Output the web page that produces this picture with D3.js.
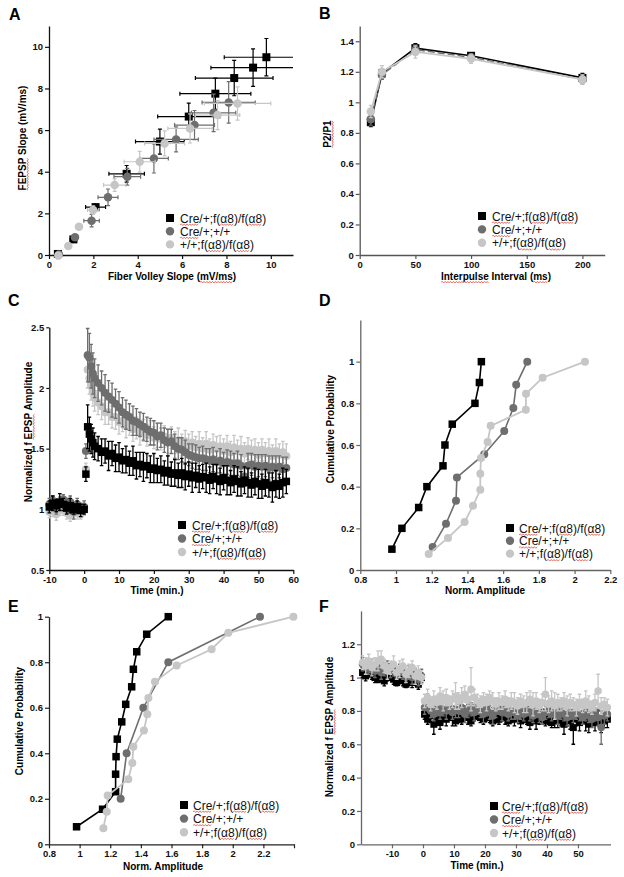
<!DOCTYPE html>
<html>
<head>
<meta charset="utf-8">
<script src="https://cdn.jsdelivr.net/npm/d3@7"></script>
<style>
  body { margin: 0; background: #fff; }
  svg { display: block; }
  text { font-family: "Liberation Sans", Arial, sans-serif; }
</style>
</head>
<body>
<svg id="fig" width="624" height="877"></svg>
<script>
// ---- shared legend / series info
var legendLabels = ["Cre/+;f(α8)/f(α8)", "Cre/+;+/+", "+/+;f(α8)/f(α8)"];

// ---- A: input/output
var aBlackX = [0.4, 1.1, 2.1, 3.5, 5.0, 6.3, 7.5, 8.35, 9.2, 9.8];
var aBlackY = [0.05, 0.75, 2.3, 3.9, 5.45, 6.65, 7.75, 8.5, 9.0, 9.5];
var aBlackXErr = [0.05, 0.15, 0.45, 0.8, 1.1, 1.4, 1.6, 1.75, 1.9, 1.9];
var aBlackYErr = [0.05, 0.1, 0.15, 0.4, 0.6, 0.65, 0.75, 0.85, 0.9, 0.9];
var aGrayX = [0.45, 1.17, 1.92, 2.66, 3.53, 4.73, 5.73, 6.56, 7.42, 8.1];
var aGrayY = [0.02, 0.85, 1.65, 2.77, 3.76, 4.64, 5.55, 6.24, 6.83, 7.33];
var aGrayXErr = [0.05, 0.15, 0.35, 0.45, 0.6, 0.65, 1.0, 0.9, 1.0, 1.2];
var aGrayYErr = [0.05, 0.1, 0.3, 0.4, 0.4, 0.7, 0.6, 0.7, 0.9, 1.0];
var aLightX = [0.42, 0.87, 1.35, 1.99, 2.96, 4.09, 5.21, 6.36, 7.6, 8.5];
var aLightY = [-0.03, 0.43, 1.36, 2.16, 3.36, 4.48, 5.36, 6.08, 6.72, 7.28];
var aLightXErr = [0.05, 0.1, 0.15, 0.25, 0.5, 0.7, 0.9, 1.0, 1.0, 1.5];
var aLightYErr = [0.05, 0.1, 0.1, 0.2, 0.3, 0.5, 0.6, 0.7, 0.7, 0.8];
var aTicks = [0, 2, 4, 6, 8, 10];

// ---- B: paired pulse
var bInterval = [10, 20, 50, 100, 200];
var bBlack = [0.87, 1.19, 1.355, 1.305, 1.16];
var bBlackErr = [0.03, 0.03, 0.03, 0.02, 0.03];
var bGray = [0.89, 1.18, 1.345, 1.295, 1.15];
var bGrayErr = [0.04, 0.03, 0.03, 0.02, 0.03];
var bLight = [0.94, 1.20, 1.33, 1.285, 1.15];
var bLightErr = [0.04, 0.04, 0.04, 0.03, 0.03];
var bXTicks = [0, 50, 100, 150, 200];
var bYTicks = [0, 0.2, 0.4, 0.6, 0.8, 1, 1.2, 1.4];

// ---- C: LTP time course
var cTime = [-10, -9, -8, -7, -6, -5, -4, -3, -2, -1, 0,
  0.5, 1, 1.5, 2, 2.5, 3,
  4, 5, 6, 7, 8, 9, 10, 11, 12, 13,
  14, 15, 16, 17, 18, 19, 20, 21, 22, 23,
  24, 25, 26, 27, 28, 29, 30, 31, 32, 33,
  34, 35, 36, 37, 38, 39, 40, 41, 42, 43,
  44, 45, 46, 47, 48, 49, 50, 51, 52, 53,
  54, 55, 56, 57, 58];
var cBlack = [1.02, 1.05, 1.03, 1.06, 1.04, 1.01, 1.03, 1.00, 1.02, 0.99, 1.00,
  1.29, 1.68, 1.62, 1.58, 1.55, 1.52,
  1.50, 1.47, 1.48, 1.44, 1.46, 1.42, 1.43, 1.40, 1.41, 1.38,
  1.40, 1.36, 1.37, 1.35, 1.36, 1.33, 1.34, 1.32, 1.33, 1.30,
  1.32, 1.29, 1.30, 1.28, 1.30, 1.27, 1.29, 1.26, 1.28, 1.25,
  1.27, 1.26, 1.24, 1.27, 1.25, 1.23, 1.26, 1.24, 1.22, 1.25,
  1.23, 1.21, 1.24, 1.22, 1.20, 1.23, 1.21, 1.19, 1.22, 1.20,
  1.18, 1.21, 1.19, 1.22, 1.23];
var cBlackErr = [0.05, 0.06, 0.05, 0.07, 0.05, 0.05, 0.06, 0.04, 0.05, 0.05, 0.04,
  0.06, 0.18, 0.14, 0.12, 0.12, 0.11,
  0.10, 0.11, 0.10, 0.12, 0.10, 0.11, 0.12, 0.10, 0.11, 0.10,
  0.12, 0.11, 0.10, 0.12, 0.10, 0.11, 0.12, 0.10, 0.11, 0.10,
  0.12, 0.10, 0.11, 0.10, 0.12, 0.11, 0.10, 0.12, 0.10, 0.11,
  0.10, 0.12, 0.11, 0.10, 0.12, 0.11, 0.10, 0.12, 0.10, 0.11,
  0.12, 0.10, 0.11, 0.12, 0.10, 0.11, 0.12, 0.10, 0.11, 0.10,
  0.12, 0.11, 0.10, 0.12, 0.10];
var cGray = [1.04, 1.07, 1.02, 1.05, 1.08, 1.03, 1.06, 0.98, 1.04, 1.01, 1.02,
  1.48, 2.27, 2.25, 2.18, 2.12, 2.08,
  2.04, 2.00, 1.96, 1.93, 1.90, 1.87, 1.84, 1.80, 1.78, 1.76,
  1.73, 1.72, 1.70, 1.68, 1.66, 1.64, 1.63, 1.60, 1.61, 1.57,
  1.55, 1.56, 1.52, 1.50, 1.49, 1.47, 1.45, 1.44, 1.43, 1.42,
  1.42, 1.41, 1.40, 1.41, 1.39, 1.40, 1.38, 1.39, 1.38, 1.37,
  1.38, 1.36, 1.27, 1.36, 1.37, 1.35, 1.36, 1.35, 1.36, 1.34,
  1.35, 1.34, 1.35, 1.33, 1.34];
var cGrayErr = [0.05, 0.04, 0.06, 0.05, 0.04, 0.06, 0.05, 0.06, 0.05, 0.04, 0.05,
  0.06, 0.22, 0.20, 0.18, 0.17, 0.16,
  0.15, 0.14, 0.15, 0.13, 0.14, 0.12, 0.13, 0.12, 0.12, 0.11,
  0.12, 0.11, 0.10, 0.11, 0.10, 0.11, 0.10, 0.11, 0.10, 0.10,
  0.11, 0.10, 0.10, 0.09, 0.10, 0.10, 0.09, 0.10, 0.10, 0.09,
  0.10, 0.09, 0.10, 0.10, 0.09, 0.10, 0.09, 0.10, 0.10, 0.09,
  0.10, 0.09, 0.08, 0.10, 0.09, 0.10, 0.09, 0.10, 0.09, 0.10,
  0.09, 0.10, 0.09, 0.10, 0.09];
var cLight = [0.98, 1.00, 0.96, 0.99, 1.01, 0.97, 0.95, 0.99, 0.97, 0.96, 1.00,
  1.33, 2.15, 2.08, 2.02, 1.96, 1.92,
  1.88, 1.85, 1.80, 1.80, 1.76, 1.76, 1.72, 1.73, 1.69, 1.70,
  1.66, 1.67, 1.63, 1.65, 1.61, 1.63, 1.59, 1.61, 1.58, 1.60,
  1.56, 1.59, 1.55, 1.57, 1.53, 1.56, 1.52, 1.55, 1.51, 1.54,
  1.50, 1.54, 1.49, 1.53, 1.50, 1.52, 1.48, 1.52, 1.47, 1.51,
  1.48, 1.50, 1.46, 1.50, 1.47, 1.49, 1.45, 1.49, 1.46, 1.48,
  1.44, 1.48, 1.45, 1.47, 1.44];
var cLightErr = [0.05, 0.06, 0.05, 0.04, 0.06, 0.05, 0.05, 0.06, 0.05, 0.04, 0.05,
  0.05, 0.15, 0.13, 0.12, 0.11, 0.11,
  0.10, 0.11, 0.10, 0.10, 0.09, 0.10, 0.10, 0.09, 0.10, 0.09,
  0.10, 0.09, 0.10, 0.09, 0.09, 0.10, 0.09, 0.10, 0.09, 0.09,
  0.10, 0.09, 0.09, 0.10, 0.09, 0.09, 0.10, 0.09, 0.09, 0.10,
  0.09, 0.10, 0.09, 0.09, 0.10, 0.09, 0.10, 0.09, 0.09, 0.10,
  0.09, 0.10, 0.09, 0.09, 0.10, 0.09, 0.10, 0.09, 0.09, 0.10,
  0.09, 0.10, 0.09, 0.09, 0.10];
var cXTicks = [-10, 0, 10, 20, 30, 40, 50, 60];
var cYTicks = [0.5, 1, 1.5, 2, 2.5];

// ---- D: cumulative, LTP amplitude
var dBlackX = [0.977, 1.033, 1.127, 1.173, 1.263, 1.274, 1.315, 1.442, 1.467, 1.478];
var dBlackY = [0.1, 0.2, 0.3, 0.4, 0.5, 0.6, 0.7, 0.8, 0.9, 1.0];
var dGrayX = [1.205, 1.28, 1.336, 1.341, 1.494, 1.606, 1.657, 1.673, 1.735];
var dGrayY = [0.111, 0.222, 0.333, 0.444, 0.556, 0.667, 0.778, 0.889, 1.0];
var dLightX = [1.183, 1.291, 1.384, 1.431, 1.472, 1.472, 1.476, 1.513, 1.53, 1.727, 1.728, 1.821, 2.058];
var dLightY = [0.077, 0.154, 0.231, 0.308, 0.385, 0.462, 0.538, 0.615, 0.692, 0.769, 0.846, 0.923, 1.0];
var dXTicks = [0.8, 1, 1.2, 1.4, 1.6, 1.8, 2, 2.2];
var dYTicks = [0, 0.2, 0.4, 0.6, 0.8, 1];

// ---- E: cumulative, LTD amplitude
var eBlackX = [0.98, 1.15, 1.235, 1.235, 1.238, 1.246, 1.275, 1.301, 1.34, 1.351, 1.373, 1.438, 1.579];
var eBlackY = [0.077, 0.154, 0.231, 0.308, 0.385, 0.462, 0.538, 0.615, 0.692, 0.769, 0.846, 0.923, 1.0];
var eGrayX = [1.268, 1.307, 1.416, 1.579, 2.178];
var eGrayY = [0.2, 0.4, 0.6, 0.8, 1.0];
var eLightX = [1.155, 1.177, 1.183, 1.318, 1.344, 1.351, 1.42, 1.442, 1.449, 1.492, 1.634, 1.862, 1.971, 2.396];
var eLightY = [0.071, 0.143, 0.214, 0.286, 0.357, 0.429, 0.5, 0.571, 0.643, 0.714, 0.786, 0.857, 0.929, 1.0];
var eXTicks = [0.8, 1, 1.2, 1.4, 1.6, 1.8, 2, 2.2, 2.4];
var eYTicks = [0, 0.2, 0.4, 0.6, 0.8, 1];

// ---- F: LTD time course
var fTime = [-19.5, -18.5, -17.5, -16.5, -15.5, -14.5, -13.5, -12.5, -11.5, -10.5,
  -9.5, -8.5, -7.5, -6.5, -5.5, -4.5, -3.5, -2.5, -1.5, -0.5,
  0.5, 1.5, 2.5, 3.5, 4.5, 5.5, 6.5, 7.5, 8.5, 9.5,
  10.5, 11.5, 12.5, 13.5, 14.5, 15.5, 16.5, 17.5, 18.5, 19.5,
  20.5, 21.5, 22.5, 23.5, 24.5, 25.5, 26.5, 27.5, 28.5, 29.5,
  30.5, 31.5, 32.5, 33.5, 34.5, 35.5, 36.5, 37.5, 38.5, 39.5,
  40.5, 41.5, 42.5, 43.5, 44.5, 45.5, 46.5, 47.5, 48.5, 49.5,
  50.5, 51.5, 52.5, 53.5, 54.5, 55.5, 56.5, 57.5, 58.5, 59.5];
var fBlack = [1.03, 1.01, 1.04, 1.02, 1.00, 0.99, 1.01, 0.98, 1.00, 1.02,
  0.99, 0.97, 1.00, 0.98, 0.96, 0.99, 0.97, 0.98, 0.96, 1.00,
  0.78, 0.75, 0.77, 0.72, 0.76, 0.73, 0.77, 0.75, 0.78, 0.76,
  0.74, 0.77, 0.75, 0.78, 0.76, 0.74, 0.77, 0.79, 0.76, 0.75,
  0.78, 0.76, 0.74, 0.77, 0.75, 0.77, 0.76, 0.74, 0.76, 0.75,
  0.77, 0.74, 0.76, 0.75, 0.73, 0.76, 0.74, 0.75, 0.77, 0.74,
  0.76, 0.73, 0.75, 0.74, 0.76, 0.72, 0.75, 0.74, 0.70, 0.75,
  0.73, 0.76, 0.74, 0.72, 0.75, 0.73, 0.76, 0.72, 0.74, 0.75];
var fBlackErr = [0.03, 0.03, 0.02, 0.03, 0.03, 0.02, 0.03, 0.03, 0.02, 0.03,
  0.03, 0.02, 0.03, 0.03, 0.02, 0.03, 0.03, 0.02, 0.03, 0.03,
  0.03, 0.03, 0.04, 0.06, 0.03, 0.04, 0.03, 0.04, 0.03, 0.05,
  0.03, 0.04, 0.03, 0.03, 0.04, 0.03, 0.03, 0.04, 0.03, 0.03,
  0.04, 0.03, 0.03, 0.04, 0.03, 0.03, 0.04, 0.03, 0.03, 0.04,
  0.03, 0.04, 0.03, 0.03, 0.04, 0.03, 0.05, 0.03, 0.04, 0.03,
  0.04, 0.03, 0.05, 0.04, 0.05, 0.06, 0.04, 0.05, 0.10, 0.04,
  0.05, 0.04, 0.06, 0.05, 0.04, 0.05, 0.04, 0.05, 0.04, 0.05];
var fGray = [1.08, 1.06, 1.05, 1.07, 1.04, 1.06, 1.03, 1.05, 1.07, 1.04,
  1.05, 1.02, 1.04, 1.03, 1.01, 1.03, 1.00, 1.02, 0.99, 1.01,
  0.82, 0.85, 0.80, 0.78, 0.82, 0.79, 0.81, 0.80, 0.83, 0.79,
  0.81, 0.80, 0.82, 0.78, 0.80, 0.81, 0.79, 0.82, 0.80, 0.78,
  0.81, 0.79, 0.77, 0.80, 0.82, 0.79, 0.81, 0.78, 0.80, 0.79,
  0.77, 0.80, 0.78, 0.81, 0.79, 0.77, 0.80, 0.78, 0.76, 0.79,
  0.81, 0.78, 0.80, 0.77, 0.79, 0.78, 0.76, 0.79, 0.77, 0.80,
  0.78, 0.76, 0.79, 0.77, 0.75, 0.78, 0.76, 0.70, 0.77, 0.78];
var fGrayErr = [0.04, 0.04, 0.03, 0.04, 0.04, 0.03, 0.04, 0.04, 0.03, 0.04,
  0.04, 0.03, 0.04, 0.04, 0.03, 0.04, 0.04, 0.03, 0.04, 0.04,
  0.04, 0.05, 0.04, 0.04, 0.05, 0.04, 0.04, 0.05, 0.04, 0.04,
  0.05, 0.04, 0.04, 0.05, 0.04, 0.04, 0.05, 0.04, 0.04, 0.05,
  0.04, 0.04, 0.05, 0.04, 0.04, 0.05, 0.04, 0.04, 0.05, 0.04,
  0.04, 0.05, 0.04, 0.04, 0.05, 0.04, 0.04, 0.05, 0.04, 0.04,
  0.05, 0.04, 0.04, 0.05, 0.04, 0.04, 0.05, 0.04, 0.04, 0.05,
  0.04, 0.04, 0.05, 0.04, 0.05, 0.04, 0.05, 0.10, 0.05, 0.04];
var fLight = [1.09, 1.07, 1.10, 1.06, 1.08, 1.10, 1.11, 1.07, 1.04, 1.06,
  1.08, 1.03, 1.05, 1.07, 1.02, 1.04, 1.06, 1.01, 1.03, 1.00,
  0.86, 0.88, 0.84, 0.87, 0.85, 0.89, 0.86, 0.88, 0.85, 0.87,
  0.89, 0.86, 0.88, 0.90, 0.87, 0.93, 0.88, 0.86, 0.84, 0.87,
  0.85, 0.88, 0.86, 0.84, 0.86, 0.85, 0.87, 0.84, 0.86, 0.85,
  0.83, 0.86, 0.84, 0.85, 0.87, 0.84, 0.86, 0.83, 0.85, 0.90,
  0.84, 0.86, 0.83, 0.85, 0.84, 0.86, 0.83, 0.85, 0.84, 0.82,
  0.85, 0.83, 0.86, 0.84, 0.82, 0.85, 0.92, 0.83, 0.84, 0.82];
var fLightErr = [0.04, 0.05, 0.04, 0.05, 0.04, 0.06, 0.05, 0.04, 0.05, 0.04,
  0.05, 0.04, 0.05, 0.04, 0.05, 0.04, 0.04, 0.05, 0.04, 0.04,
  0.04, 0.05, 0.04, 0.05, 0.04, 0.05, 0.06, 0.05, 0.04, 0.05,
  0.08, 0.05, 0.06, 0.05, 0.04, 0.13, 0.05, 0.04, 0.05, 0.04,
  0.05, 0.04, 0.05, 0.04, 0.05, 0.04, 0.05, 0.04, 0.05, 0.06,
  0.05, 0.04, 0.05, 0.06, 0.05, 0.07, 0.05, 0.04, 0.05, 0.10,
  0.05, 0.06, 0.08, 0.05, 0.04, 0.05, 0.06, 0.05, 0.04, 0.05,
  0.05, 0.04, 0.06, 0.05, 0.04, 0.05, 0.10, 0.05, 0.04, 0.05];
var fXTicks = [-10, 0, 10, 20, 30, 40, 50];
var fYTicks = [0, 0.2, 0.4, 0.6, 0.8, 1, 1.2];

// ---- drawing
var svg = d3.select("#fig");
var BLACK = "#000", DARK = "#6e6e6e", LIGHT = "#c6c6c6";
var RED = "#d8392b";

function zip(xs, ys, es, xes) {
  return xs.map(function(v, i) {
    return { x: v, y: ys[i], e: es ? es[i] : 0, xe: xes ? xes[i] : 0 };
  });
}

// red spell-check squiggle under part of a text node
function squiggle(parent, node, start, len) {
  var a = node.getStartPositionOfChar(start);
  var b = node.getEndPositionOfChar(start + len - 1);
  var y = a.y + 2.2, d = "M" + a.x + "," + y, up = true;
  for (var px = a.x + 1.4; px <= b.x; px += 1.4) {
    d += "L" + px + "," + (y + (up ? -0.8 : 0.8));
    up = !up;
  }
  parent.append("path").attr("d", d).attr("fill", "none")
    .attr("stroke", RED).attr("stroke-width", 0.7);
}

function markWords(parent, node, words) {
  var s = node.textContent;
  words.forEach(function(w) {
    var i = s.indexOf(w);
    while (i >= 0) {
      squiggle(parent, node, i, w.length);
      i = s.indexOf(w, i + w.length);
    }
  });
}

function panel(o) {
  var g = svg.append("g");
  var x = d3.scaleLinear().domain(o.xd).range([o.l, o.r]);
  var y = d3.scaleLinear().domain(o.yd).range([o.b, o.t]);
  var fmt = function(d) { return (o.hide && o.hide.indexOf(d) >= 0) ? "" : String(d); };

  var xa = g.append("g").attr("transform", "translate(0," + o.b + ")")
    .call(d3.axisBottom(x).tickValues(o.xt).tickSize(4).tickSizeOuter(0).tickPadding(2).tickFormat(fmt));
  var ya = g.append("g").attr("transform", "translate(" + o.l + ",0)")
    .call(d3.axisLeft(y).tickValues(o.yt).tickSize(o.yts || 4).tickSizeOuter(0).tickPadding(2).tickFormat(fmt));
  [xa, ya].forEach(function(a) {
    a.select(".domain").attr("stroke", o.ac).attr("stroke-width", 1.3);
    a.selectAll(".tick line").attr("stroke", o.ac).attr("stroke-width", 1.2);
    a.selectAll(".tick text").attr("fill", "#111").style("font-size", "9.5px").style("font-weight", "bold");
  });

  g.append("text").attr("x", o.lx).attr("y", o.ly)
    .style("font-size", "16px").style("font-weight", "bold").text(o.letter);

  var xt = g.append("text").attr("x", o.xtx).attr("y", o.xty).attr("text-anchor", "middle")
    .style("font-size", "10px").style("font-weight", "bold").text(o.xTitle);
  if (o.xMark) markWords(g, xt.node(), o.xMark);

  var yg = g.append("g").attr("transform", "translate(" + o.ytx + "," + o.yty + ") rotate(-90)");
  var yt = yg.append("text").attr("x", 0).attr("y", 0).attr("dy", "0.35em").attr("text-anchor", "middle")
    .style("font-size", "10px").style("font-weight", "bold").text(o.yTitle);
  if (o.yMark) markWords(yg, yt.node(), o.yMark);

  return { g: g, x: x, y: y };
}

function marks(p, pts, shape, size, color) {
  if (shape === "square") {
    p.g.append("g").selectAll("rect").data(pts).join("rect")
      .attr("x", function(d) { return p.x(d.x) - size / 2; })
      .attr("y", function(d) { return p.y(d.y) - size / 2; })
      .attr("width", size).attr("height", size).attr("fill", color);
  } else {
    p.g.append("g").selectAll("circle").data(pts).join("circle")
      .attr("cx", function(d) { return p.x(d.x); })
      .attr("cy", function(d) { return p.y(d.y); })
      .attr("r", size / 2).attr("fill", color);
  }
}

function yErr(p, pts, color, cap, w) {
  p.g.append("g").selectAll("path").data(pts).join("path")
    .attr("d", function(d) {
      var px = p.x(d.x), a = p.y(d.y + d.e), b = p.y(d.y - d.e);
      return "M" + px + "," + a + "V" + b + "M" + (px - cap) + "," + a + "H" + (px + cap) +
        "M" + (px - cap) + "," + b + "H" + (px + cap);
    })
    .attr("fill", "none").attr("stroke", color).attr("stroke-width", w || 1.2);
}

function xErr(p, pts, color, cap) {
  p.g.append("g").selectAll("path").data(pts).join("path")
    .attr("d", function(d) {
      var py = p.y(d.y), a = p.x(Math.max(d.x - d.xe, p.x.domain()[0])), b = p.x(Math.min(d.x + d.xe, p.x.domain()[1]));
      var s = "M" + a + "," + py + "H" + b;
      if (d.x - d.xe >= p.x.domain()[0]) s += "M" + a + "," + (py - cap) + "V" + (py + cap);
      if (d.x + d.xe <= p.x.domain()[1]) s += "M" + b + "," + (py - cap) + "V" + (py + cap);
      return s;
    })
    .attr("fill", "none").attr("stroke", color).attr("stroke-width", 1.2);
}

function line(p, pts, color, w, dash) {
  p.g.append("path").datum(pts)
    .attr("d", d3.line().x(function(d) { return p.x(d.x); }).y(function(d) { return p.y(d.y); }))
    .attr("fill", "none").attr("stroke", color).attr("stroke-width", w)
    .attr("stroke-dasharray", dash || null);
}

function legend(p, lx, ly, step, tx) {
  var cols = [BLACK, DARK, LIGHT], shapes = ["square", "circle", "circle"];
  legendLabels.forEach(function(lab, i) {
    var cy = ly + i * step;
    if (shapes[i] === "square") {
      p.g.append("rect").attr("x", lx - 4).attr("y", cy - 4).attr("width", 8).attr("height", 8).attr("fill", cols[i]);
    } else {
      p.g.append("circle").attr("cx", lx).attr("cy", cy).attr("r", 4.2).attr("fill", cols[i]);
    }
    var t = p.g.append("text").attr("x", tx).attr("y", cy + 4.5)
      .style("font-size", "12px").attr("fill", "#111").text(lab);
    markWords(p.g, t.node(), ["Cre", "α8"]);
  });
}

// ---------- Panel A
var pA = panel({ l: 49, r: 293, t: 26, b: 255, xd: [0, 11], yd: [0, 11], xt: aTicks, yt: aTicks, ac: "#111",
  letter: "A", lx: 9, ly: 20,
  xTitle: "Fiber Volley Slope (mV/ms)", xtx: 172, xty: 280, xMark: ["mV/ms"],
  yTitle: "FEPSP Slope (mV/ms)", ytx: 22, yty: 138, yMark: ["FEPSP"] });
[[aBlackX, aBlackY, aBlackYErr, aBlackXErr, BLACK, "square", 8],
 [aGrayX, aGrayY, aGrayYErr, aGrayXErr, DARK, "circle", 8.5],
 [aLightX, aLightY, aLightYErr, aLightXErr, LIGHT, "circle", 8.5]].forEach(function(s) {
  var pts = zip(s[0], s[1], s[2], s[3]);
  xErr(pA, pts, s[4], 2);
  yErr(pA, pts, s[4], 2);
  marks(pA, pts, s[5], s[6], s[4]);
});
legend(pA, 170, 218, 13.2, 180);

// ---------- Panel B
var pB = panel({ l: 359.7, r: 604.7, t: 26, b: 255, xd: [0, 220], yd: [0, 1.5], xt: bXTicks, yt: bYTicks, ac: "#555",
  letter: "B", lx: 319, ly: 19,
  xTitle: "Interpulse Interval (ms)", xtx: 496, xty: 280, xMark: ["Interpulse", "ms"],
  yTitle: "P2/P1", ytx: 327, yty: 134, yMark: ["P2/P1"] });
[[bBlack, bBlackErr, BLACK, "square", 8, 1.6, null],
 [bGray, bGrayErr, DARK, "circle", 8.5, 1.5, "7,3"],
 [bLight, bLightErr, LIGHT, "circle", 8.5, 1.8, null]].forEach(function(s) {
  var pts = zip(bInterval, s[0], s[1]);
  line(pB, pts, s[2], s[5], s[6]);
  yErr(pB, pts, s[2], 2);
  marks(pB, pts, s[3], s[4], s[2]);
});
legend(pB, 482, 216, 13.4, 492);

// ---------- Panel C
var pC = panel({ l: 49.3, r: 293.3, t: 327.3, b: 570, xd: [-10, 60], yd: [0.5, 2.5], xt: cXTicks, yt: cYTicks, ac: "#111",
  yts: 3,
  letter: "C", lx: 8, ly: 306,
  xTitle: "Time (min.)", xtx: 157, xty: 594,
  yTitle: "Normalized f EPSP Amplitude", ytx: 28, yty: 432, yMark: ["EPSP"] });
[[cLight, cLightErr, LIGHT, "circle", 8],
 [cGray, cGrayErr, DARK, "circle", 8],
 [cBlack, cBlackErr, BLACK, "square", 7.5]].forEach(function(s) {
  var pts = zip(cTime, s[0], s[1]);
  yErr(pC, pts, s[2], 1.8, 1.3);
  marks(pC, pts, s[3], s[4], s[2]);
});
legend(pC, 182, 525, 13.5, 192);

// ---------- Panel D
var pD = panel({ l: 360.3, r: 610.3, t: 320, b: 570, xd: [0.8, 2.2], yd: [0, 1.2], xt: dXTicks, yt: dYTicks, ac: "#666",
  letter: "D", lx: 319, ly: 306,
  xTitle: "Norm. Amplitude", xtx: 485, xty: 594,
  yTitle: "Cumulative Probability", ytx: 330, yty: 429 });
[[dBlackX, dBlackY, BLACK, "square", 7.5, 1.6],
 [dGrayX, dGrayY, DARK, "circle", 8, 1.6],
 [dLightX, dLightY, LIGHT, "circle", 8, 1.8]].forEach(function(s) {
  var pts = zip(s[0], s[1]);
  line(pD, pts, s[2], s[5]);
  marks(pD, pts, s[3], s[4], s[2]);
});
legend(pD, 510, 528, 12.8, 519);

// ---------- Panel E
var pE = panel({ l: 49, r: 294, t: 616.7, b: 844.3, xd: [0.8, 2.4], yd: [0, 1], xt: eXTicks, yt: eYTicks, ac: "#222",
  hide: [2.4],
  letter: "E", lx: 8, ly: 612,
  xTitle: "Norm. Amplitude", xtx: 163, xty: 870,
  yTitle: "Cumulative Probability", ytx: 19, yty: 721 });
[[eBlackX, eBlackY, BLACK, "square", 7.5, 1.6],
 [eGrayX, eGrayY, DARK, "circle", 8, 1.6],
 [eLightX, eLightY, LIGHT, "circle", 8, 1.8]].forEach(function(s) {
  var pts = zip(s[0], s[1]);
  line(pE, pts, s[2], s[5]);
  marks(pE, pts, s[3], s[4], s[2]);
});
legend(pE, 184, 805, 13.6, 193);

// ---------- Panel F
var pF = panel({ l: 361, r: 610.5, t: 610.9, b: 844.3, xd: [-20, 60.5], yd: [0, 1.4], xt: fXTicks, yt: fYTicks, ac: "#666",
  letter: "F", lx: 319, ly: 612,
  xTitle: "Time (min.)", xtx: 477, xty: 869,
  yTitle: "Normalized f EPSP Amplitude", ytx: 329, yty: 727, yMark: ["EPSP"] });
[[fBlack, fBlackErr, BLACK, "square", 7],
 [fGray, fGrayErr, DARK, "circle", 7.5],
 [fLight, fLightErr, LIGHT, "circle", 7.5]].forEach(function(s) {
  var pts = zip(fTime, s[0], s[1]);
  yErr(pF, pts, s[2], 1.8, 1.3);
  marks(pF, pts, s[3], s[4], s[2]);
});
legend(pF, 494, 806, 13.5, 502);
</script>
</body>
</html>
